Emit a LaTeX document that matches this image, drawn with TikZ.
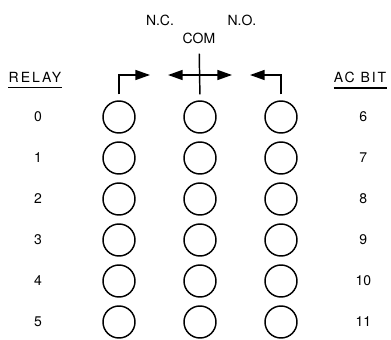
\documentclass[tikz,border=0pt]{standalone}
\usepackage{fontspec}
\setmainfont{TeX Gyre Heros}
\usepackage{tikz}
\usetikzlibrary{arrows.meta,positioning}
\tikzset{jack/.style={draw, circle, line width=1.1pt, minimum size=24pt, inner sep=0pt},
  lbl/.style={font=\fontsize{10.5}{12}\selectfont, minimum width=16pt, inner sep=0pt},
  head/.style={font=\fontsize{10.5}{12}\selectfont\addfontfeature{LetterSpace=14}, inner sep=0pt},
  wire/.style={line width=1.1pt},
  tip/.style={-{Triangle[length=11pt,width=7.5pt]}},
  node distance=5.65pt and 35.65pt}

\begin{document}
\begin{tikzpicture}[x=0.75pt,y=-0.75pt]
    \useasboundingbox (0,0) rectangle (391,339);
    % first row
    \node[jack] (c00) at (119,117) {};
    \node[jack,right=of c00] (c01) {};
    \node[jack,right=of c01] (c02) {};
    \node[lbl,left=40pt of c00] (r0) {0};
    \node[lbl,right=41pt of c02] (b0) {6};
    % the rest of the rows
    \node[jack,below=of c00] (c10) {};
    \node[jack,right=of c10] (c11) {};
    \node[jack,right=of c11] (c12) {};
    \node[lbl,left=40pt of c10] (r1) {1};
    \node[lbl,right=41pt of c12] (b1) {7};
    \node[jack,below=of c10] (c20) {};
    \node[jack,right=of c20] (c21) {};
    \node[jack,right=of c21] (c22) {};
    \node[lbl,left=40pt of c20] (r2) {2};
    \node[lbl,right=41pt of c22] (b2) {8};
    \node[jack,below=of c20] (c30) {};
    \node[jack,right=of c30] (c31) {};
    \node[jack,right=of c31] (c32) {};
    \node[lbl,left=40pt of c30] (r3) {3};
    \node[lbl,right=41pt of c32] (b3) {9};
    \node[jack,below=of c30] (c40) {};
    \node[jack,right=of c40] (c41) {};
    \node[jack,right=of c41] (c42) {};
    \node[lbl,left=40pt of c40] (r4) {4};
    \node[lbl,right=41pt of c42] (b4) {10};
    \node[jack,below=of c40] (c50) {};
    \node[jack,right=of c50] (c51) {};
    \node[jack,right=of c51] (c52) {};
    \node[lbl,left=40pt of c50] (r5) {5};
    \node[lbl,right=41pt of c52] (b5) {11};
    % headings
    \node[head] (relay) at (35,77) {RELAY};
    \node[head] (acbit) at (360,77) {AC BIT};
    \draw[wire] ([yshift=-4pt]relay.south west) -- ([yshift=-4pt]relay.south east);
    \draw[wire] ([yshift=-4pt]acbit.south west) -- ([yshift=-4pt]acbit.south east);
    \node[lbl] (nc) at (160,20) {N.C.};
    \node[lbl] (com) at (199,38) {COM};
    \node[lbl] (no) at (242,20) {N.O.};
    % contacts
    \coordinate (ncend) at (150,75);
    \coordinate (comleft) at (168,75);
    \coordinate (comright) at (232,75);
    \coordinate (noend) at (250,75);
    \draw[wire,tip,shorten <=4.5pt] (c00.north) |- (ncend);
    \draw[wire,tip,shorten <=4.5pt] (c02.north) |- (noend);
    \draw[wire,shorten <=4.5pt,shorten >=7.5pt] (c01.north) -- (com);
    \draw[wire,{Triangle[length=11pt,width=7.5pt]}-{Triangle[length=11pt,width=7.5pt]}] (comleft) -- (comright);
\end{tikzpicture}
\end{document}
